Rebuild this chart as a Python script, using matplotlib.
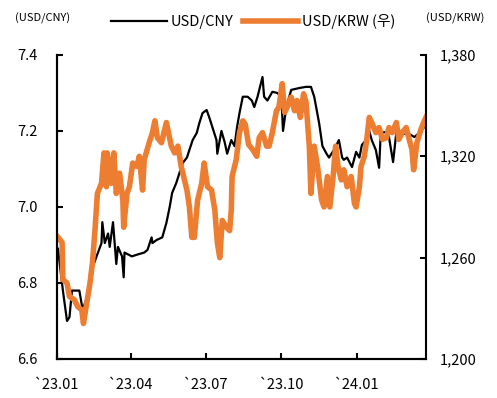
"""
USD/CNY vs USD/KRW exchange rates, 2023.01 - 2024.03
"""

import matplotlib
matplotlib.use("Agg")
import matplotlib.pyplot as plt
import matplotlib.dates as mdates
from matplotlib.ticker import FuncFormatter
import pandas as pd

plt.rcParams['font.family'] = ['Noto Sans CJK KR', 'DejaVu Sans']

# USD/CNY (left axis)
cny_dates = [
    "2023-01-02", "2023-01-08", "2023-01-13", "2023-01-16", "2023-01-19", "2023-01-28",
    "2023-02-01", "2023-02-06", "2023-02-10", "2023-02-13", "2023-02-18", "2023-02-24",
    "2023-02-25", "2023-02-28", "2023-03-04", "2023-03-06", "2023-03-10", "2023-03-12",
    "2023-03-14", "2023-03-16", "2023-03-21", "2023-03-23", "2023-03-24", "2023-04-02",
    "2023-04-09", "2023-04-17", "2023-04-21", "2023-04-26", "2023-04-27", "2023-05-02",
    "2023-05-09", "2023-05-14", "2023-05-18", "2023-05-21", "2023-05-26", "2023-05-30",
    "2023-06-03", "2023-06-08", "2023-06-11", "2023-06-15", "2023-06-20", "2023-06-23",
    "2023-06-27", "2023-07-02", "2023-07-05", "2023-07-09", "2023-07-14", "2023-07-15",
    "2023-07-20", "2023-07-24", "2023-07-27", "2023-08-01", "2023-08-05", "2023-08-08",
    "2023-08-11", "2023-08-15", "2023-08-21", "2023-08-26", "2023-08-29", "2023-09-02",
    "2023-09-08", "2023-09-10", "2023-09-14", "2023-09-20", "2023-09-26", "2023-10-01",
    "2023-10-03", "2023-10-07", "2023-10-13", "2023-10-23", "2023-10-31", "2023-11-06",
    "2023-11-10", "2023-11-16", "2023-11-20", "2023-11-25", "2023-11-28", "2023-12-04",
    "2023-12-10", "2023-12-14", "2023-12-16", "2023-12-20", "2023-12-26", "2023-12-31",
    "2024-01-04", "2024-01-07", "2024-01-12", "2024-01-16", "2024-01-19", "2024-01-24",
    "2024-01-28", "2024-01-30", "2024-02-05", "2024-02-09", "2024-02-14", "2024-02-18",
    "2024-02-24", "2024-03-02", "2024-03-11", "2024-03-17", "2024-03-23",
]
cny_values = [
    6.89, 6.78, 6.70, 6.71, 6.78, 6.78,
    6.73, 6.76, 6.79, 6.84, 6.87, 6.905,
    6.96, 6.905, 6.93, 6.895, 6.96, 6.905,
    6.85, 6.895, 6.87, 6.815, 6.88, 6.87,
    6.875, 6.88, 6.887, 6.92, 6.905, 6.913,
    6.92, 6.958, 7.00, 7.037, 7.063, 7.09,
    7.116, 7.13, 7.15, 7.176, 7.195, 7.22,
    7.247, 7.255, 7.237, 7.21, 7.176, 7.14,
    7.20, 7.17, 7.14, 7.176, 7.16, 7.21,
    7.247, 7.29, 7.29, 7.28, 7.263, 7.29,
    7.342, 7.29, 7.28, 7.303, 7.30, 7.29,
    7.20, 7.263, 7.308, 7.313, 7.316, 7.316,
    7.29, 7.22, 7.16, 7.14, 7.13, 7.15,
    7.176, 7.13, 7.124, 7.13, 7.105, 7.145,
    7.13, 7.163, 7.176, 7.20, 7.176, 7.15,
    7.103, 7.195, 7.197, 7.184, 7.118, 7.197,
    7.19, 7.195, 7.184, 7.195, 7.21,
]

# USD/KRW (right axis)
krw_dates = [
    "2023-01-02", "2023-01-07", "2023-01-08", "2023-01-13", "2023-01-16", "2023-01-22",
    "2023-01-26", "2023-01-31", "2023-02-02", "2023-02-06", "2023-02-10", "2023-02-13",
    "2023-02-16", "2023-02-19", "2023-02-24", "2023-02-27", "2023-03-02", "2023-03-03",
    "2023-03-08", "2023-03-11", "2023-03-14", "2023-03-18", "2023-03-22", "2023-03-23",
    "2023-03-27", "2023-03-30", "2023-04-03", "2023-04-08", "2023-04-11", "2023-04-15",
    "2023-04-17", "2023-04-23", "2023-04-27", "2023-04-30", "2023-05-03", "2023-05-08",
    "2023-05-14", "2023-05-20", "2023-05-24", "2023-05-28", "2023-06-01", "2023-06-03",
    "2023-06-08", "2023-06-11", "2023-06-14", "2023-06-17", "2023-06-21", "2023-06-26",
    "2023-06-29", "2023-07-03", "2023-07-08", "2023-07-12", "2023-07-15", "2023-07-18",
    "2023-07-21", "2023-07-26", "2023-07-30", "2023-08-01", "2023-08-02", "2023-08-07",
    "2023-08-11", "2023-08-15", "2023-08-18", "2023-08-22", "2023-08-27", "2023-09-01",
    "2023-09-04", "2023-09-08", "2023-09-13", "2023-09-16", "2023-09-20", "2023-09-25",
    "2023-09-28", "2023-10-02", "2023-10-05", "2023-10-08", "2023-10-13", "2023-10-17",
    "2023-10-20", "2023-10-24", "2023-10-28", "2023-10-31", "2023-11-04", "2023-11-06",
    "2023-11-10", "2023-11-14", "2023-11-19", "2023-11-22", "2023-11-26", "2023-11-29",
    "2023-12-03", "2023-12-06", "2023-12-09", "2023-12-13", "2023-12-16", "2023-12-20",
    "2023-12-25", "2023-12-29", "2023-12-31", "2024-01-04", "2024-01-06", "2024-01-10",
    "2024-01-13", "2024-01-16", "2024-01-19", "2024-01-24", "2024-01-28", "2024-02-01",
    "2024-02-06", "2024-02-09", "2024-02-13", "2024-02-18", "2024-02-21", "2024-02-25",
    "2024-03-01", "2024-03-04", "2024-03-08", "2024-03-10", "2024-03-14", "2024-03-19",
    "2024-03-23", "2024-03-25",
]
krw_values = [
    1272, 1269, 1247, 1245, 1237, 1235,
    1231, 1229, 1221, 1233, 1245, 1257,
    1276, 1298, 1304, 1322, 1302, 1322,
    1304, 1322, 1298, 1310, 1294, 1278,
    1298, 1302, 1316, 1314, 1320, 1300,
    1318, 1328, 1334, 1341, 1331, 1328,
    1340, 1326, 1322, 1326, 1314, 1310,
    1300, 1290, 1272, 1272, 1294, 1304,
    1316, 1302, 1300, 1288, 1269, 1260,
    1282, 1278, 1276, 1288, 1308, 1318,
    1334, 1341, 1339, 1327, 1324, 1320,
    1331, 1334, 1326, 1326, 1334, 1347,
    1349, 1363, 1346, 1349, 1355, 1347,
    1353, 1343, 1357, 1352, 1326, 1298,
    1326, 1314, 1294, 1290, 1308, 1290,
    1308, 1326, 1314, 1306, 1312, 1302,
    1308, 1292, 1290, 1302, 1314, 1320,
    1330, 1343, 1340, 1334, 1337, 1330,
    1331, 1337, 1334, 1340, 1330, 1334,
    1337, 1331, 1324, 1312, 1328, 1336,
    1341, 1343,
]

x_ticks = ["2023-01-01", "2023-04-01", "2023-07-01", "2023-10-01", "2024-01-01"]
x_tick_labels = ["`23.01", "`23.04", "`23.07", "`23.10", "`24.01"]
cny_ticks = [6.6, 6.8, 7.0, 7.2, 7.4]
krw_ticks = [1200, 1260, 1320, 1380]

cny_x = pd.to_datetime(cny_dates)
krw_x = pd.to_datetime(krw_dates)

fig = plt.figure(figsize=(4.97, 3.98), dpi=100)
ax = fig.add_axes([0.115, 0.098, 0.742, 0.764])
ax2 = ax.twinx()

ax.plot(cny_x, cny_values, color='black', linewidth=1.6, label='USD/CNY', zorder=3)
ax2.plot(krw_x, krw_values, color='#ED7D31', linewidth=4.0, label='USD/KRW (우)')

ax.set_xlim(pd.Timestamp("2023-01-01"), pd.Timestamp("2024-03-25"))
ax.set_ylim(6.6, 7.4)
ax2.set_ylim(1200, 1380)

ax.set_xticks(pd.to_datetime(x_ticks))
ax.set_xticklabels(x_tick_labels)
ax.set_yticks(cny_ticks)
ax.yaxis.set_major_formatter(FuncFormatter(lambda v, p: f"{v:.1f}"))
ax2.set_yticks(krw_ticks)
ax2.yaxis.set_major_formatter(FuncFormatter(lambda v, p: f"{int(v):,}"))

for a in (ax, ax2):
    a.spines['top'].set_visible(False)
    for s in ('left', 'right', 'bottom'):
        a.spines[s].set_linewidth(1.5)
ax.spines['right'].set_visible(False)

ax.tick_params(axis='x', direction='in', length=4, width=1.5, pad=14, labelsize=10.5, colors='#333333')
ax.tick_params(axis='x', colors='black')
ax.tick_params(axis='y', direction='in', length=4, width=1.5, pad=14, labelsize=10.5)
ax2.tick_params(axis='y', direction='in', length=4, width=1.5, pad=10, labelsize=10.5)

fig.text(0.03, 0.955, "(USD/CNY)", fontsize=8, ha='left', va='center')
fig.text(0.975, 0.955, "(USD/KRW)", fontsize=8, ha='right', va='center')

h1, l1 = ax.get_legend_handles_labels()
h2, l2 = ax2.get_legend_handles_labels()
fig.legend(h1 + h2, l1 + l2, loc='center', bbox_to_anchor=(0.51, 0.945), ncol=2,
           frameon=False, fontsize=10.5, handlelength=3.8, columnspacing=0.6,
           handletextpad=0.3)

fig.savefig("out.png", dpi=100)
plt.close(fig)
